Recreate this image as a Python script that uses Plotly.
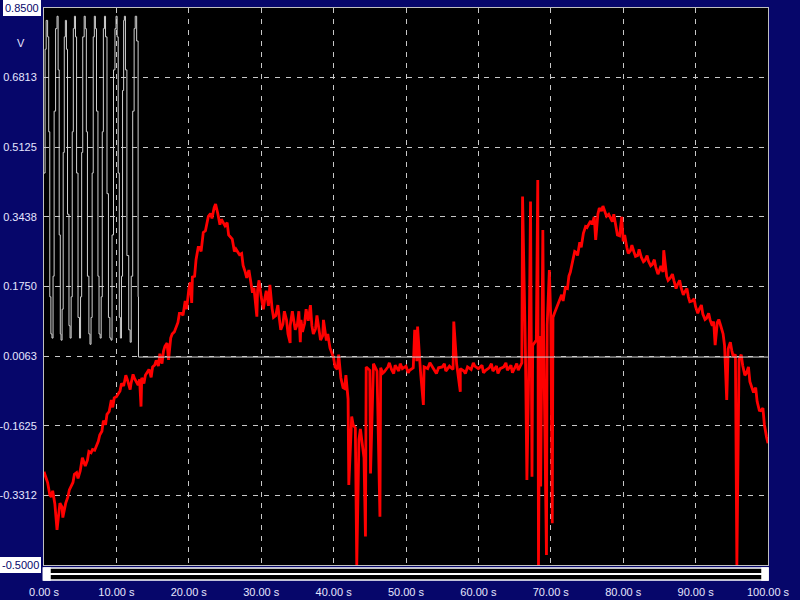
import plotly.graph_objects as go

# ---------------- data ----------------
# red channel: base samples every 0.5 s
red_t = [i * 0.5 for i in range(201)]
red_v = [
    -0.274, -0.300, -0.335, -0.352, -0.372, -0.360, -0.350, -0.318, -0.300, -0.276,
    -0.272, -0.250, -0.246, -0.228, -0.222, -0.200, -0.176, -0.160, -0.128, -0.118,
    -0.092, -0.078, -0.066, -0.050, -0.062, -0.048, -0.064, -0.046, -0.040, -0.026,
    -0.020, -0.004, 0.012, 0.018, 0.038, 0.050, 0.065, 0.088, 0.110, 0.140,
    0.168, 0.198, 0.240, 0.270, 0.306, 0.332, 0.352, 0.366, 0.352, 0.338,
    0.322, 0.300, 0.290, 0.266, 0.252, 0.226, 0.196, 0.190, 0.172, 0.166,
    0.150, 0.146, 0.128, 0.122, 0.104, 0.098, 0.084, 0.094, 0.080, 0.092,
    0.084, 0.094, 0.086, 0.092, 0.080, 0.072, 0.070, 0.056, 0.044, 0.026,
    0.002, -0.026, -0.046, -0.072, -0.098, -0.140, -0.168, -0.196, -0.215, -0.020,
    -0.028, -0.018, -0.030, -0.022, -0.032, -0.020, -0.026, -0.016, -0.030, -0.024,
    -0.018, -0.028, -0.022, -0.006, -0.030, -0.020, -0.024, -0.016, -0.028, -0.022,
    -0.020, -0.030, -0.018, -0.026, -0.014, -0.024, -0.030, -0.020, -0.026, -0.018,
    -0.024, -0.016, -0.028, -0.022, -0.030, -0.018, -0.024, -0.020, -0.028, -0.016,
    -0.022, -0.028, -0.010, 0.010, 0.020, 0.032, 0.045, 0.055, 0.070, 0.082,
    0.094, 0.110, 0.130, 0.155, 0.172, 0.200, 0.232, 0.258, 0.282, 0.304,
    0.318, 0.334, 0.344, 0.350, 0.358, 0.356, 0.350, 0.332, 0.314, 0.298,
    0.284, 0.270, 0.262, 0.258, 0.250, 0.246, 0.238, 0.236, 0.228, 0.222,
    0.214, 0.210, 0.200, 0.196, 0.190, 0.180, 0.172, 0.162, 0.150, 0.140,
    0.126, 0.120, 0.108, 0.098, 0.094, 0.090, 0.088, 0.078, 0.032, 0.024,
    0.020, 0.010, -0.002, -0.016, -0.036, -0.056, -0.082, -0.104, -0.126, -0.160,
    -0.205,
]
# red channel: large isolated spikes (time, value)
spike_t = [1.8, 13.4, 17.2, 20.4, 29.4, 31.2, 34.0, 35.4, 36.8, 38.6,
           42.1, 43.2, 44.4, 45.1, 46.4, 51.2, 51.6, 52.4, 56.6, 57.5,
           66.1, 66.7, 67.2, 67.4, 68.2, 68.3, 68.6, 68.9, 69.4, 69.8,
           70.2, 76.2, 79.8, 85.6, 92.7, 94.3, 95.7]
spike_v = [-0.415, -0.116, -0.003, 0.135, 0.102, 0.179, 0.038, 0.040, 0.130, 0.094,
           -0.306, -0.500, -0.431, -0.278, -0.383, 0.070, 0.078, -0.112, 0.090, -0.080,
           0.393, -0.294, 0.381, -0.286, 0.433, -0.500, -0.310, 0.312, -0.476, 0.215,
           -0.399, 0.288, 0.344, 0.263, 0.033, -0.100, -0.500]
# red channel: small noise excursions (time, value)
noise_t = [0.3, 0.8, 1.2, 2.2, 2.6, 3.3, 4.2, 4.7, 5.3, 5.7, 6.2, 6.7, 7.3, 7.7,
           8.2, 8.7, 9.3, 9.7, 10.7, 11.3, 11.9, 12.3, 13.2, 13.8, 14.8, 15.3,
           15.8, 16.3, 16.7, 17.7, 18.7, 19.2, 19.7, 20.2, 20.8, 21.3, 21.7, 22.3,
           22.7, 23.2, 23.7, 24.3, 25.3, 26.3, 27.3, 27.8, 28.3, 28.8, 29.7, 30.3,
           30.7, 31.7, 32.3, 32.7, 33.2, 33.7, 34.3, 34.7, 35.2, 35.7, 36.2, 37.2,
           37.7, 38.2, 39.2, 40.2, 40.7, 41.3, 41.7, 42.7, 43.7, 44.2,
           45.5, 46.8, 47.7, 48.3, 49.2, 50.3, 53.3, 54.2, 55.3, 58.2, 59.3, 60.7,
           61.8, 62.7, 63.8, 64.7, 65.3,
           70.3, 70.7, 71.3, 71.7, 72.3, 72.7, 73.3, 73.7, 74.2, 74.8, 75.7, 76.7,
           77.2, 77.7, 78.7, 79.2, 80.2, 80.7, 81.2, 81.7, 82.2, 82.8, 83.3, 83.8,
           84.3, 84.8, 85.2, 86.2, 86.8, 87.3, 87.8, 88.3, 88.8, 89.2, 89.8, 90.3,
           90.8, 91.3, 91.8, 92.3, 93.2, 93.8, 94.8, 95.2, 96.3, 96.8, 97.3, 97.8,
           98.3, 98.8, 99.3, 99.8]
noise_v = [-0.290, -0.330, -0.320, -0.350, -0.385, -0.335, -0.280, -0.290, -0.240, -0.260,
           -0.225, -0.220, -0.210, -0.185, -0.150, -0.135, -0.100, -0.095, -0.060, -0.040,
           -0.075, -0.038, -0.050, -0.060, -0.045, -0.015, -0.018, -0.012, 0.030, 0.060,
           0.110, 0.105, 0.120, 0.185, 0.200, 0.270, 0.260, 0.310, 0.345, 0.340,
           0.375, 0.325, 0.330, 0.260, 0.255, 0.210, 0.215, 0.160, 0.190, 0.120,
           0.165, 0.100, 0.130, 0.070, 0.115, 0.060, 0.115, 0.070, 0.115, 0.065,
           0.120, 0.060, 0.105, 0.045, 0.060, -0.020, 0.010, -0.070, -0.040, -0.160,
           -0.170, -0.240,
           -0.012, -0.035, -0.010, -0.036, -0.012, -0.034, -0.010, -0.036, -0.012, -0.036,
           -0.010, -0.034, -0.012, -0.036, -0.010, -0.034, -0.012,
           0.100, 0.120, 0.150, 0.140, 0.170, 0.210, 0.260, 0.250, 0.270, 0.320,
           0.325, 0.365, 0.370, 0.345, 0.350, 0.300, 0.300, 0.255, 0.275, 0.248,
           0.265, 0.235, 0.250, 0.225, 0.240, 0.205, 0.225, 0.190, 0.205, 0.170,
           0.190, 0.155, 0.170, 0.138, 0.145, 0.110, 0.130, 0.095, 0.110, 0.080,
           0.095, 0.060, 0.040, 0.005, 0.010, -0.040, -0.020, -0.070, -0.070, -0.125,
           -0.120, -0.190]

# grey channel (stepped)
grey_t = [0.0, 0.15, 0.3, 0.5, 0.65, 0.8, 0.95, 1.1, 1.25, 1.4, 1.6, 1.8, 1.95, 2.1,
          2.25, 2.35, 2.5, 2.65, 2.8, 2.95, 3.1, 3.25, 3.45, 3.6, 3.75, 3.9, 4.05,
          4.2, 4.35, 4.5, 4.7, 4.9, 5.05, 5.2, 5.35, 5.55, 5.7, 5.85, 6.0, 6.2,
          6.35, 6.5, 6.65, 6.8, 6.95, 7.1, 7.25, 7.45, 7.6, 7.75, 7.9, 8.05, 8.2,
          8.35, 8.5, 8.7, 8.9, 9.1, 9.25, 9.4, 9.6, 9.8, 9.95, 10.1, 10.25, 10.4,
          10.55, 10.7, 10.85, 11.0, 11.1, 11.25, 11.45, 11.7, 11.9, 12.05, 12.25,
          12.45, 12.6, 12.8, 13.0, 13.05, 100.0]
grey_v = [0.45, 0.75, 0.82, 0.78, 0.55, 0.15, 0.06, 0.05, 0.20, 0.60, 0.80, 0.83, 0.70,
          0.30, 0.06, 0.045, 0.12, 0.50, 0.78, 0.82, 0.75, 0.35, 0.08, 0.05, 0.15,
          0.55, 0.80, 0.83, 0.78, 0.45, 0.10, 0.05, 0.15, 0.50, 0.78, 0.83, 0.80,
          0.55, 0.20, 0.06, 0.035, 0.10, 0.45, 0.78, 0.83, 0.80, 0.60, 0.20, 0.06,
          0.05, 0.15, 0.55, 0.80, 0.83, 0.78, 0.40, 0.10, 0.05, 0.045, 0.30, 0.70,
          0.80, 0.83, 0.78, 0.45, 0.10, 0.05, 0.20, 0.65, 0.82, 0.83, 0.70, 0.25,
          0.07, 0.04, 0.20, 0.60, 0.80, 0.83, 0.77, 0.15, 0.004, 0.004]

y_ticks = [0.85, 0.6813, 0.5125, 0.3438, 0.175, 0.0063, -0.1625, -0.3312, -0.5]
y_labels = ["", "0.6813", "0.5125", "0.3438", "0.1750", "0.0063", "-0.1625", "-0.3312", ""]
x_ticks = [0, 10, 20, 30, 40, 50, 60, 70, 80, 90, 100]
x_labels = ["0.00 s", "10.00 s", "20.00 s", "30.00 s", "40.00 s", "50.00 s",
            "60.00 s", "70.00 s", "80.00 s", "90.00 s", "100.00 s"]

# merge base samples, spikes and noise excursions in time order
pts = sorted(list(zip(red_t, red_v)) + list(zip(spike_t, spike_v))
             + list(zip(noise_t, noise_v)))
rt = [p[0] for p in pts]
rv = [p[1] for p in pts]

NAVY = "#06066a"
GRID = "#c8c8c8"
TXT = "#e6e6ff"
FONT = "Liberation Sans"

fig = go.Figure()
fig.add_trace(go.Scatter(x=rt, y=rv, mode="lines",
                         line=dict(color="#ff0000", width=2.8), hoverinfo="skip"))
fig.add_trace(go.Scatter(x=grey_t, y=grey_v, mode="lines", line_shape="hv",
                         line=dict(color="#d0d0d0", width=1), hoverinfo="skip"))

fig.update_layout(
    width=800, height=600,
    paper_bgcolor=NAVY, plot_bgcolor="#000000",
    margin=dict(l=44, r=32, t=8, b=35, autoexpand=False),
    showlegend=False,
    font=dict(family=FONT, size=11, color=TXT),
    xaxis=dict(range=[0, 100], tickvals=x_ticks, ticktext=x_labels,
               showgrid=True, gridcolor=GRID, griddash="5px,6px", gridwidth=1,
               showline=True, linecolor="#c0c0c0", linewidth=1, mirror=True,
               ticks="", ticklabelstandoff=17, zeroline=False, automargin=False,
               tickfont=dict(family=FONT, size=11, color=TXT)),
    yaxis=dict(range=[-0.5, 0.85], tickvals=y_ticks, ticktext=y_labels,
               showgrid=True, gridcolor=GRID, griddash="5px,6px", gridwidth=1,
               showline=True, linecolor="#c0c0c0", linewidth=1, mirror=True,
               ticks="", ticklabelstandoff=4, zeroline=False, automargin=False,
               tickfont=dict(family=FONT, size=11, color=TXT)),
)

# boxed end labels and unit label
for val, txt in [(0.85, "0.8500"), (-0.5, "-0.5000")]:
    fig.add_annotation(xref="paper", x=0, xanchor="right", xshift=-3,
                       yref="y", y=val, yanchor="middle", text=txt, showarrow=False,
                       bgcolor="#ffffff", bordercolor="#ffffff", borderpad=1,
                       font=dict(family=FONT, size=11, color="#06066a"))
fig.add_annotation(xref="paper", x=0, xanchor="center", xshift=-23,
                   yref="y", y=0.765, yanchor="middle", text="V", showarrow=False,
                   font=dict(family=FONT, size=11, color=TXT))

# scroll bar under the plot
H = 557.0
def py(p):
    return (565 - p) / H
fig.add_shape(type="rect", xref="paper", yref="paper", x0=-0.001, x1=1.0,
              y0=py(580), y1=py(568), line=dict(color="#ffffff", width=1.5),
              fillcolor="#000000")
fig.add_shape(type="line", xref="paper", yref="paper", x0=-0.001, x1=1.0,
              y0=py(574), y1=py(574), line=dict(color="#ffffff", width=2))
fig.add_shape(type="rect", xref="paper", yref="paper", x0=0.0, x1=6 / 724,
              y0=py(580), y1=py(568), line=dict(color="#ffffff", width=1.5),
              fillcolor="#ffffff")
fig.add_shape(type="rect", xref="paper", yref="paper", x0=1 - 6 / 724, x1=1.0,
              y0=py(580), y1=py(568), line=dict(color="#ffffff", width=1.5),
              fillcolor="#ffffff")

fig.write_html("out.html", config={"displayModeBar": False},
               post_script="document.body.style.margin='0';"
                           "document.body.style.overflow='hidden';")
